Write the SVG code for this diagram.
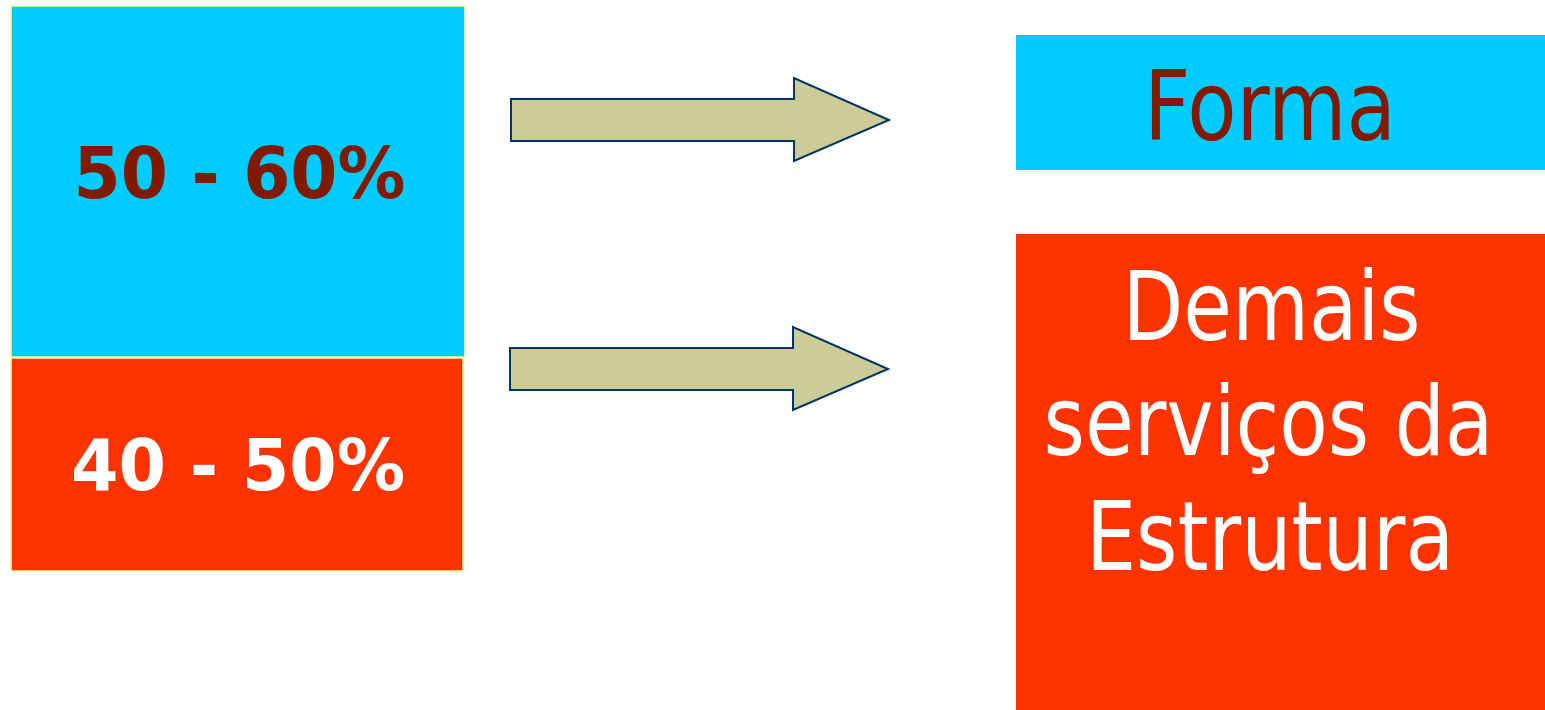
<svg xmlns="http://www.w3.org/2000/svg" width="1545" height="710" viewBox="0 0 1545 710">
<style>
.blue{fill:#00CCFF}
.red{fill:#FF3300}
.edge{stroke:#FFFF99;stroke-width:1.5}
.big{font-family:"DejaVu Sans Condensed","DejaVu Sans",Verdana,sans-serif;font-stretch:condensed;font-size:96px;text-anchor:middle}
.pct{font-family:"DejaVu Sans Condensed","DejaVu Sans",Verdana,sans-serif;font-stretch:condensed;font-size:71px;font-weight:bold;text-anchor:middle}
.arrow{fill:#CCCC99;stroke:#003366;stroke-width:2;stroke-linejoin:miter}
</style>
<rect width="1545" height="710" fill="#FFFFFF"/>
<g id="node-50-60">
<rect class="blue edge" x="11" y="6" width="454" height="351"/>
<text class="pct" x="239.5" y="198" fill="#801A00" textLength="332" lengthAdjust="spacingAndGlyphs">50 - 60%</text>
</g>
<g id="node-40-50">
<rect class="red edge" x="11" y="358" width="452" height="213"/>
<text class="pct" x="238" y="490" fill="#FFFFFF" textLength="334" lengthAdjust="spacingAndGlyphs">40 - 50%</text>
</g>
<g id="node-forma">
<rect class="blue" x="1016" y="35" width="529" height="135"/>
<text class="big" x="1270" y="140" fill="#801A00" textLength="252" lengthAdjust="spacingAndGlyphs">Forma</text>
</g>
<g id="node-demais">
<rect class="red" x="1016" y="234" width="529" height="476"/>
<text class="big" x="1271.5" y="340" fill="#FFFFFF" textLength="298" lengthAdjust="spacingAndGlyphs">Demais</text>
<text class="big" x="1268.5" y="455" fill="#FFFFFF" textLength="450" lengthAdjust="spacingAndGlyphs">serviços da</text>
<text class="big" x="1270" y="570" fill="#FFFFFF" textLength="368" lengthAdjust="spacingAndGlyphs">Estrutura</text>
</g>
<g id="connectors">
<polygon class="arrow" points="511,99 794,99 794,78 889,120 794,161 794,141 511,141"/>
<polygon class="arrow" points="510,348 793,348 793,327 888,369 793,410 793,390 510,390"/>
</g>
</svg>
